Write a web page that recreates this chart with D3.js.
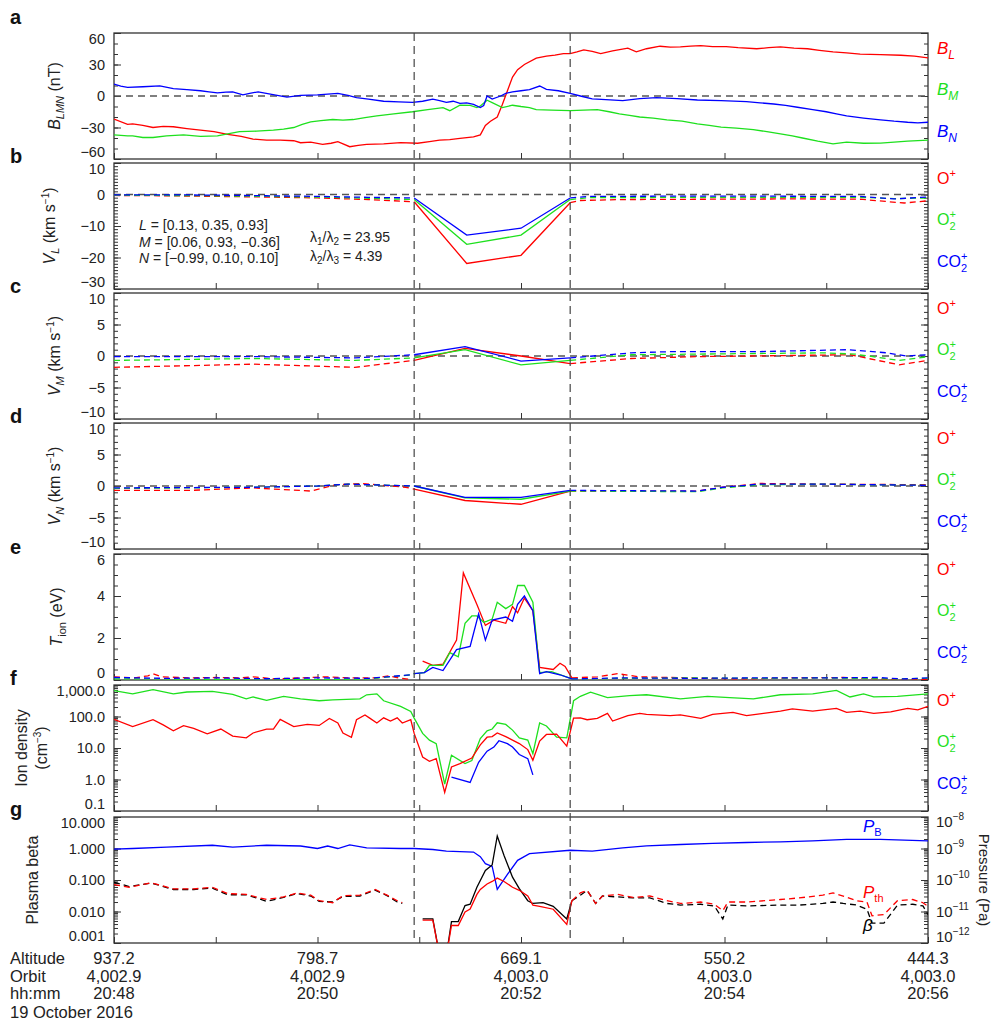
<!DOCTYPE html>
<html>
<head>
<meta charset="utf-8">
<script src="https://cdn.jsdelivr.net/npm/d3@7"></script>
<style>
  body { margin: 0; background: #fff; }
  text { font-family: "Liberation Sans", Arial, Helvetica, sans-serif; }
</style>
</head>
<body>
<div id="chart"></div>
<script>
// times are seconds after 20:48:00 UT, 19 October 2016
const boundaryTimes = [177, 269];
const solidRange = [177, 270];

const timeTicks = [0, 120, 240, 360, 480];
const altitudeLabels = ["937.2", "798.7", "669.1", "550.2", "444.3"];
const orbitLabels = ["4,002.9", "4,002.9", "4,003.0", "4,003.0", "4,003.0"];
const clockLabels = ["20:48", "20:50", "20:52", "20:54", "20:56"];

// a: magnetic field in LMN (nT)
const bL = [[0,-22],[8,-27],[11,-26.5],[17,-28],[23,-30],[29,-29],[35,-29.3],[43,-31],[51,-32.5],[59,-34],[67,-36.6],[75,-38.5],[82,-41],[90,-42],[98,-42],[106,-42.6],[110,-44.5],[116,-44],[123,-46],[128,-45],[132,-43.5],[139,-48.3],[144,-47],[149,-46],[159,-45.5],[169,-44.5],[179,-45],[186,-43.5],[192,-42],[198,-41.5],[204,-40.4],[212,-39],[216,-37],[219,-28],[222,-24],[226,-20],[229,-8],[232,5],[235,18],[238,25],[242,30],[249,36],[255,38],[260,39],[265,40.4],[269,40.4],[273,42],[277,44],[282,42.5],[287,40.4],[294,43],[303,45.5],[308,42],[314,45],[322,47.4],[328,46.5],[334,46.7],[340,47.5],[346,48],[353,47],[361,47],[368,46],[379,45],[386,46],[393,46.7],[401,45.5],[409,45],[416,43.5],[424,42],[432,41],[440,39.8],[452,39.5],[464,38.8],[472,38],[480,36.3]];
const bM = [[0,-37],[8,-38],[11,-38],[17,-39.5],[23,-39.5],[31,-38],[41,-37],[51,-38.5],[61,-38],[67,-36],[74,-34],[84,-33.5],[94,-32.5],[100,-31.5],[106,-30],[111,-27],[116,-24.6],[122,-23.5],[129,-22.4],[135,-23],[141,-22.4],[148,-20.5],[155,-19],[165,-17],[176,-15],[185,-13],[194,-11],[198,-14],[204,-8.8],[210,-9],[214,-11],[216,-9.5],[220,-4],[223,-6.3],[229,-11],[235,-8.8],[240,-10],[245,-11],[249,-13],[258,-13.5],[269,-13.9],[277,-13.5],[285,-13],[292,-15],[298,-17],[304,-18.5],[310,-20],[318,-21],[326,-22.7],[335,-24],[344,-26.5],[351,-28],[358,-29.7],[367,-30.5],[377,-32],[385,-34],[393,-36],[400,-38],[406,-40],[415,-43],[424,-45.5],[432,-44],[442,-45],[452,-44.8],[460,-44],[468,-43],[480,-42]];
const bN = [[0,11.4],[4,9.5],[8,8.2],[17,8.8],[27,9.6],[35,7],[43,6],[51,5],[56,4],[61,3],[66,3.6],[70,4],[76,1],[80,2.5],[85,4],[93,1.5],[102,-1],[110,0.5],[120,1],[126,1.8],[132,2.5],[138,0.5],[143,-1.5],[150,-3],[159,-5],[168,-5.5],[176,-6],[182,-5],[188,-3],[192,-4.5],[196,-6],[200,-5],[204,-7],[208,-6.5],[212,-8],[216,-11],[218,-9],[220,0],[223,-3],[228,0],[231,2.5],[235,4],[240,5],[245,6],[251,9.5],[255,6.4],[262,5],[269,2.5],[275,0],[282,-2.8],[290,-3.5],[300,-4.4],[310,-2.5],[320,-1.5],[332,-2.5],[344,-3.8],[358,-4.5],[373,-5.4],[381,-6.5],[389,-7.6],[396,-9],[403,-10.7],[412,-13],[420,-15],[426,-17],[432,-19],[442,-21],[452,-22.7],[460,-24],[468,-25],[474,-25.5],[480,-25]];

// b: V_L (km/s), dashed outside / solid inside the crossing interval
const vLO = [[0,-0.3],[30,-0.4],[60,-0.6],[90,-0.8],[120,-1.1],[150,-1.6],[177,-2.3],[208,-21.9],[240,-19.3],[269,-2.6],[275,-1.9],[300,-1.6],[350,-1.5],[400,-1.4],[440,-1.5],[455,-2.2],[466,-2.7],[480,-2.0]];
const vLO2 = [[0,-0.2],[30,-0.3],[60,-0.4],[90,-0.6],[120,-0.8],[150,-1.2],[177,-1.6],[208,-15.8],[240,-12.9],[269,-1.6],[280,-1.0],[350,-0.9],[440,-0.9],[460,-1.3],[480,-1.1]];
const vLCO2 = [[0,-0.1],[30,-0.1],[60,-0.2],[90,-0.4],[120,-0.6],[150,-0.9],[177,-1.1],[208,-12.9],[240,-10.7],[269,-1.1],[280,-0.6],[350,-0.5],[440,-0.6],[460,-1.4],[480,-0.8]];

// c: V_M (km/s)
const vMO = [[0,-1.8],[82,-1.3],[142,-1.8],[177,-0.7],[207,1.2],[240,0],[269,-1.2],[305,-0.4],[344,-0.1],[434,0.2],[463,-1.4],[480,-0.7]];
const vMO2 = [[0,-0.7],[82,-0.4],[142,-0.7],[177,-0.3],[207,1.0],[240,-1.4],[269,-0.7],[305,0.2],[344,0.3],[418,0.5],[437,0.3],[463,-0.7],[480,-0.1]];
const vMCO2 = [[0,-0.1],[82,-0.1],[142,-0.3],[177,0.2],[207,1.5],[240,-0.8],[269,-0.3],[305,0.5],[329,0.7],[381,0.7],[433,1.0],[456,0.5],[467,0],[480,0.2]];

// d: V_N (km/s)
const vNO = [[0,-0.7],[45,-0.7],[82,-0.3],[116,-0.8],[131,0.2],[146,0.4],[172,-0.2],[177,-0.5],[207,-2.3],[240,-2.9],[269,-0.8],[344,-0.8],[359,-0.2],[381,0.4],[418,0.3],[480,0.2]];
const vNO2 = [[0,-0.4],[82,-0.2],[120,0],[138,0.3],[177,0],[207,-1.9],[240,-2.1],[269,-0.8],[344,-0.9],[359,-0.3],[381,0.2],[418,0.3],[480,0.1]];
const vNCO2 = [[0,-0.3],[82,-0.2],[120,0],[138,0.3],[177,0],[207,-1.8],[240,-1.8],[269,-0.7],[344,-0.8],[359,-0.2],[381,0.3],[418,0.3],[480,0.1]];

// e: ion temperature (eV)
const tO = [[0,0.15],[12,0.1],[20,0.2],[23,0.3],[28,0.15],[45,0.1],[60,0.12],[75,0.1],[82,0.15],[95,0.05],[110,0.1],[125,0.15],[140,0.1],[155,0.1],[162,0.2],[168,0.1],[175,0.02],null,[182,0.9],[188,0.7],[194,0.75],[202,1.9],[206,5.1],[214,3.6],[219,2.6],[224,2.85],[231,2.7],[235,3.5],[238,3.2],[242,3.9],[247,3.3],[251,0.6],[259,0.5],[263,0.8],[266,0.65],[270,0.1],[285,0.15],[297,0.3],[310,0.15],[340,0.1],[370,0.05],[400,0.1],[430,0.12],[450,0.05],[465,0.0],[480,0.02]];
const tO2 = [[0,0.05],[30,0.05],[60,0.03],[90,0.05],[120,0.02],[150,0.05],[176,0.25],[177,0.3],[183,0.35],[186,0.7],[194,0.7],[198,1.3],[203,1.1],[207,2.7],[211,3.05],[214,3.05],[218,2.75],[220,2.8],[223,2.9],[226,3.7],[231,3.4],[235,3.6],[238,4.5],[242,4.5],[247,3.7],[251,0.35],[258,0.4],[270,0.05],[300,0.08],[340,0.1],[380,0.08],[420,0.1],[460,0.05],[480,0.08]];
const tCO2 = [[0,0.12],[30,0.08],[60,0.1],[90,0.06],[120,0.1],[150,0.08],[176,0.25],[177,0.3],[183,0.35],[188,0.6],[194,0.45],[202,1.45],[210,1.6],[215,3.15],[219,1.9],[223,2.85],[231,3.0],[235,2.8],[238,3.6],[242,4.0],[247,3.3],[251,0.3],[255,0.4],[263,0.25],[270,0.05],[300,0.1],[340,0.08],[380,0.1],[420,0.1],[450,0.12],[465,0.05],[480,0.1]];

// f: ion density (cm^-3)
const nO = [[0,81],[11,48],[23,79],[29,54],[35,35],[41,51],[47,42],[55,28],[63,40],[70,24],[78,21],[82,30],[90,40],[94,40],[98,81],[106,48],[114,56],[121,52],[127,87],[132,62],[135,30],[140,22],[143,79],[148,112],[151,87],[155,62],[159,91],[163,72],[167,91],[170,62],[175,79],[177,29],[182,5.2],[186,3.8],[190,4.6],[195,0.39],[199,2.5],[204,3.2],[211,4.8],[216,12.6],[220,22],[223,23],[226,30],[231,23],[235,17.8],[239,13.8],[244,8.9],[247,4.1],[251,16.6],[255,27],[261,27.5],[267,11.5],[271,89],[275,91],[279,79],[285,87],[291,126],[294,72],[303,107],[310,126],[314,117],[328,107],[334,112],[346,87],[353,117],[365,135],[373,107],[383,126],[393,148],[400,174],[412,148],[426,182],[432,135],[440,148],[448,126],[458,141],[468,182],[474,162],[480,209]];
const nO2 = [[0,660],[11,525],[23,710],[35,525],[43,600],[58,630],[70,500],[78,363],[82,417],[90,324],[100,437],[110,363],[121,316],[129,339],[145,363],[149,490],[155,525],[159,316],[169,209],[175,145],[177,89],[182,29],[186,17.8],[190,13.8],[195,0.72],[199,5.9],[207,3.2],[211,4.0],[216,20],[220,35],[223,40],[226,63],[231,56],[235,37],[239,21],[244,17.8],[247,6.6],[251,63],[255,50],[261,22],[267,21],[271,316],[275,437],[281,590],[291,400],[304,457],[314,490],[334,363],[350,437],[363,400],[377,363],[393,490],[412,525],[426,676],[434,417],[442,525],[448,417],[462,437],[480,525]];
const nCO2 = [[199,1.2],[210,0.81],[215,3.5],[220,7.9],[224,10.7],[227,17],[232,13.8],[235,10.7],[239,6.2],[244,4.6],[247,1.4]];

// g: magnetic and thermal pressure (Pa), plasma beta
const pB = [[0,0.95e-9],[11,1.0e-9],[31,1.1e-9],[58,1.27e-9],[70,1.1e-9],[90,1.27e-9],[110,1.2e-9],[120,1.0e-9],[126,1.2e-9],[132,1.0e-9],[139,1.3e-9],[149,1.05e-9],[169,1.0e-9],[177,1.0e-9],[188,0.93e-9],[196,0.83e-9],[212,0.77e-9],[216,0.55e-9],[219,0.33e-9],[223,0.27e-9],[226,0.05e-9],[232,0.15e-9],[238,0.42e-9],[245,0.69e-9],[269,0.88e-9],[282,0.82e-9],[300,1.05e-9],[314,1.21e-9],[334,1.34e-9],[353,1.45e-9],[373,1.55e-9],[393,1.63e-9],[412,1.75e-9],[432,1.94e-9],[452,1.94e-9],[480,1.75e-9]];
const pTh = [[0,7.1e-11],[9,5.9e-11],[22,8.2e-11],[35,5.2e-11],[47,5.2e-11],[58,5.9e-11],[67,3.7e-11],[78,3.5e-11],[90,2.4e-11],[100,2.9e-11],[108,3.9e-11],[116,3.3e-11],[121,2.2e-11],[129,1.9e-11],[135,3.2e-11],[145,3.3e-11],[154,5.0e-11],[161,3.3e-11],[167,2.2e-11],[170,1.9e-11],null,[182,5.3e-12],[188,5.3e-12],[192,4e-13],[196,4e-13],[199,3.6e-12],[203,3.6e-12],[207,9.7e-12],[210,1.2e-11],[214,3.5e-11],[216,5.0e-11],[220,7.5e-11],[223,9.0e-11],[226,1.15e-10],[230,9.0e-11],[235,5.9e-11],[239,4.7e-11],[244,3.1e-11],[247,1.6e-11],[251,1.46e-11],[259,1.18e-11],[267,3.9e-12],[270,2.2e-11],[275,3.9e-11],[279,4.7e-11],[284,1.8e-11],[288,3.1e-11],[297,3.5e-11],[306,2.8e-11],[316,3.1e-11],[326,2.2e-11],[334,1.8e-11],[346,2.0e-11],[354,1.7e-11],[359,1.06e-11],[362,2.0e-11],[373,2.0e-11],[393,2.4e-11],[404,2.7e-11],[418,3.3e-11],[424,3.9e-11],[430,3.1e-11],[438,2.2e-11],[444,2.0e-11],[447,7.3e-12],[454,8.0e-12],[462,2.2e-11],[471,2.4e-11],[477,1.9e-11],[480,1.46e-11]];
const beta = [[0,0.085],[9,0.062],[22,0.08],[35,0.05],[47,0.05],[58,0.055],[67,0.034],[78,0.034],[90,0.021],[100,0.028],[108,0.037],[116,0.031],[121,0.021],[129,0.02],[135,0.03],[145,0.031],[154,0.048],[161,0.032],[167,0.02],[170,0.018],null,[182,0.0058],[188,0.0058],[192,0.0004],[196,0.0004],[199,0.0048],[203,0.0048],[207,0.0154],[210,0.017],[214,0.059],[219,0.2],[223,0.3],[226,2.5],[230,0.6],[235,0.123],[239,0.053],[244,0.022],[247,0.018],[253,0.019],[259,0.0146],[267,0.0058],[270,0.022],[275,0.033],[279,0.047],[284,0.018],[288,0.031],[297,0.029],[306,0.027],[316,0.027],[326,0.018],[334,0.016],[346,0.017],[354,0.015],[359,0.0058],[362,0.016],[373,0.015],[393,0.016],[404,0.016],[418,0.018],[424,0.02],[430,0.018],[438,0.016],[444,0.0118],[447,0.0043],[454,0.0043],[462,0.016],[471,0.017],[477,0.015],[480,0.008]];

const RED = "#ff0000", GREEN = "#1ee01e", BLUE = "#0000ff", AXIS = "#333";
const W = 993, H = 1022;
const left = 114, right = 928;
const panelTops = [33, 163, 293, 423, 554, 685, 817];
const panelH = 126;
const letterY = [24, 163, 293, 423, 554, 685, 816];

const svg = d3.select("#chart").append("svg")
    .attr("width", W).attr("height", H)
    .attr("font-family", '"Liberation Sans", Arial, sans-serif');

const x = d3.scaleLinear().domain([0, 480]).range([left, right]);

const logMinor = (lo, hi) => d3.range(Math.round(Math.log10(lo)), Math.round(Math.log10(hi)))
    .flatMap(e => d3.range(1, 10).map(m => m * Math.pow(10, e)));

function makePanel(i, opts) {
    const top = panelTops[i], bottom = top + panelH;
    const y = (opts.log ? d3.scaleLog() : d3.scaleLinear()).domain(opts.domain).range([bottom, top]);
    const g = svg.append("g");
    const clipId = "clip" + i;
    svg.append("clipPath").attr("id", clipId).append("rect")
        .attr("x", left).attr("y", top).attr("width", right - left).attr("height", panelH);

    // minor ticks, both sides
    const minorL = g.append("g").attr("transform", `translate(${left},0)`)
        .call(d3.axisLeft(y).tickValues(opts.minor).tickSize(-4).tickFormat(""));
    const minorR = g.append("g").attr("transform", `translate(${right},0)`)
        .call(d3.axisRight(y).tickValues(opts.minor).tickSize(-4).tickFormat(""));
    const majorR = g.append("g").attr("transform", `translate(${right},0)`)
        .call(d3.axisRight(y).tickValues(opts.major).tickSize(-7).tickFormat(""));
    // major ticks + labels
    const gl = g.append("g").attr("transform", `translate(${left},0)`)
        .call(d3.axisLeft(y).tickValues(opts.major).tickSize(-7).tickPadding(9).tickFormat(opts.fmt));
    [minorL, minorR, majorR, gl].forEach(a => {
        a.select(".domain").remove();
        a.selectAll("line").attr("stroke", AXIS);
    });
    gl.attr("font-family", null).attr("font-size", null);
    gl.selectAll("text")
        .attr("font-size", 14.5).attr("fill", "#222")
        .attr("y", d => Math.max(top + 6 - y(d), Math.min(bottom - 7 - y(d), 0)));

    // time ticks along the bottom
    const gb = g.append("g").attr("transform", `translate(0,${bottom})`)
        .call(d3.axisBottom(x).tickValues(d3.range(0, 481, 60)).tickSize(-6).tickFormat(""));
    gb.select(".domain").remove();
    gb.selectAll("line").attr("stroke", AXIS);

    if (opts.zero) {
        g.append("line").attr("x1", left).attr("x2", right)
            .attr("y1", y(0)).attr("y2", y(0))
            .attr("stroke", "#555").attr("stroke-width", 1.3).attr("stroke-dasharray", "7,5");
    }

    g.append("rect").attr("x", left).attr("y", top).attr("width", right - left).attr("height", panelH)
        .attr("fill", "none").attr("stroke", AXIS).attr("stroke-width", 1.3);

    svg.append("text").attr("x", 10).attr("y", letterY[i])
        .attr("font-size", 20).attr("font-weight", "bold").attr("fill", "#111").text("abcdefg"[i]);

    return { g, y, top, bottom, clip: `url(#${clipId})` };
}

function drawSeries(p, pts, color, split, ys) {
    const yy = ys || p.y;
    const line = d3.line().x(d => x(d[0])).y(d => yy(d[1]));
    const runs = [];
    let cur = null;
    for (let k = 0; k < pts.length - 1; k++) {
        const a = pts[k], b = pts[k + 1];
        if (!a || !b) { cur = null; continue; }
        const solid = !split || (a[0] >= solidRange[0] && b[0] <= solidRange[1]);
        if (!cur || cur.solid !== solid) { cur = { solid, pts: [a] }; runs.push(cur); }
        cur.pts.push(b);
    }
    runs.forEach(r => {
        p.g.append("path").attr("d", line(r.pts))
            .attr("fill", "none").attr("stroke", color).attr("stroke-width", 1.3)
            .attr("stroke-dasharray", r.solid ? null : "6,4")
            .attr("clip-path", p.clip);
    });
}

// rich text helper: parts = [[text, {italic, size, dx, dy}], ...]
function richText(parent, xPos, yPos, parts, color, size, attrs) {
    const t = parent.append("text").attr("x", xPos).attr("y", yPos)
        .attr("fill", color).attr("font-size", size);
    if (attrs) Object.entries(attrs).forEach(([k, v]) => t.attr(k, v));
    parts.forEach(([s, o]) => {
        o = o || {};
        const ts = t.append("tspan").text(s);
        if (o.italic) ts.attr("font-style", "italic");
        if (o.size) ts.attr("font-size", o.size);
        if (o.dx) ts.attr("dx", o.dx);
        if (o.dy) ts.attr("dy", o.dy);
    });
    return t;
}

function yLabel(p, xPos, parts, size) {
    const cy = (p.top + p.bottom) / 2;
    richText(svg, 0, 0, parts, "#222", size || 16,
        { transform: `translate(${xPos},${cy}) rotate(-90)`, "text-anchor": "middle" });
}

const lx = 937;
function ionLegend(p) {
    richText(svg, lx, p.top + 21, [["O"], ["+", { size: 11, dy: -7 }]], RED, 16);
    richText(svg, lx, p.top + 62, [["O"], ["+", { size: 11, dy: -7 }], ["2", { size: 11, dx: -6.5, dy: 12 }]], GREEN, 16);
    richText(svg, lx, p.top + 104, [["CO"], ["+", { size: 11, dy: -7 }], ["2", { size: 11, dx: -6.5, dy: 12 }]], BLUE, 16);
}

const fmtLin = d3.format("d");

// panel a
const pa = makePanel(0, { domain: [-60, 60], major: [-60, -30, 0, 30, 60], minor: d3.range(-60, 61, 10), fmt: fmtLin, zero: true });
drawSeries(pa, bL, RED, false);
drawSeries(pa, bM, GREEN, false);
drawSeries(pa, bN, BLUE, false);
yLabel(pa, 60, [["B", { italic: true }], ["LMN", { italic: true, size: 11, dy: 4 }], [" (nT)", { dy: -4 }]]);
richText(svg, lx, pa.top + 21, [["B", { italic: true }], ["L", { italic: true, size: 12, dy: 5 }]], RED, 17);
richText(svg, lx, pa.top + 62, [["B", { italic: true }], ["M", { italic: true, size: 12, dy: 5 }]], GREEN, 17);
richText(svg, lx, pa.top + 104, [["B", { italic: true }], ["N", { italic: true, size: 12, dy: 5 }]], BLUE, 17);

// panels b-d
const velPanels = [
    { i: 1, domain: [-30, 10], major: [-30, -20, -10, 0, 10], minor: d3.range(-30, 11, 1), sub: "L", series: [vLO, vLO2, vLCO2], lx: 55 },
    { i: 2, domain: [-10, 10], major: [-10, -5, 0, 5, 10], minor: d3.range(-10, 11, 1), sub: "M", series: [vMO, vMO2, vMCO2], lx: 60 },
    { i: 3, domain: [-10, 10], major: [-10, -5, 0, 5, 10], minor: d3.range(-10, 11, 1), sub: "N", series: [vNO, vNO2, vNCO2], lx: 60 }
];
velPanels.forEach(v => {
    const p = makePanel(v.i, { domain: v.domain, major: v.major, minor: v.minor, fmt: fmtLin, zero: true });
    [RED, GREEN, BLUE].forEach((c, k) => drawSeries(p, v.series[k], c, true));
    yLabel(p, v.lx, [["V", { italic: true }], [v.sub, { italic: true, size: 11, dy: 4 }], [" (km s", { dy: -4 }], ["−1", { size: 10, dy: -6 }], [")", { dy: 6 }]]);
    ionLegend(p);
    if (v.i === 1) {
        const lines = [["L", "[0.13, 0.35, 0.93]"], ["M", "[0.06, 0.93, −0.36]"], ["N", "[−0.99, 0.10, 0.10]"]];
        lines.forEach(([n, val], k) => richText(svg, 139, 230 + k * 16.5, [[n, { italic: true }], [" = " + val]], "#222", 14));
        richText(svg, 310, 242, [["λ"], ["1", { size: 10, dy: 3 }], ["/λ", { dy: -3 }], ["2", { size: 10, dy: 3 }], [" = 23.95", { dy: -3 }]], "#222", 14);
        richText(svg, 310, 261, [["λ"], ["2", { size: 10, dy: 3 }], ["/λ", { dy: -3 }], ["3", { size: 10, dy: 3 }], [" = 4.39", { dy: -3 }]], "#222", 14);
    }
});

// panel e
const pe = makePanel(4, { domain: [0, 6], major: [0, 2, 4, 6], minor: d3.range(0, 6.01, 0.5), fmt: fmtLin });
drawSeries(pe, tO, RED, true);
drawSeries(pe, tO2, GREEN, true);
drawSeries(pe, tCO2, BLUE, true);
yLabel(pe, 62, [["T", { italic: true }], ["ion", { size: 11, dy: 4 }], [" (eV)", { dy: -4 }]]);
ionLegend(pe);

// panel f
const pf = makePanel(5, { log: true, domain: [0.1, 1000], major: [0.1, 1, 10, 100, 1000], minor: logMinor(0.1, 1000), fmt: d3.format(",.1f") });
drawSeries(pf, nO2, GREEN, false);
drawSeries(pf, nO, RED, false);
drawSeries(pf, nCO2, BLUE, false);
yLabel(pf, 27, [["Ion density"]], 16);
yLabel(pf, 47, [["(cm"], ["−3", { size: 10, dy: -6 }], [")", { dy: 6 }]], 16);
ionLegend(pf);

// panel g
const pg = makePanel(6, { log: true, domain: [0.001, 10], major: [0.001, 0.01, 0.1, 1, 10], minor: logMinor(0.001, 10), fmt: d3.format(".3f") });
const yP = d3.scaleLog().domain([1e-12, 1e-8]).range([pg.bottom, pg.top]);
drawSeries(pg, pB, BLUE, false, yP);
drawSeries(pg, beta, "#000", true);
drawSeries(pg, pTh, RED, true, yP);
yLabel(pg, 38, [["Plasma beta"]], 16);
const pTicks = [1e-12, 1e-11, 1e-10, 1e-9, 1e-8];
pTicks.forEach(v => {
    const e = Math.round(Math.log10(v));
    const yy = Math.max(pg.top + 5, Math.min(pg.bottom - 6, yP(v)));
    richText(svg, 936, yy + 5, [["10"], ["−" + Math.abs(e), { size: 10, dy: -7 }]], "#222", 15);
});
svg.append("text").attr("font-size", 15).attr("fill", "#222").attr("text-anchor", "middle")
    .attr("transform", `translate(979,${(pg.top + pg.bottom) / 2}) rotate(90)`).text("Pressure (Pa)");
richText(svg, 863, 832, [["P", { italic: true }], ["B", { size: 11, dy: 4 }]], BLUE, 17);
richText(svg, 863, 898, [["P", { italic: true }], ["th", { size: 11, dy: 4 }]], RED, 17);
richText(svg, 863, 931, [["β", { italic: true }]], "#000", 17);

// crossing boundaries
boundaryTimes.forEach(t => {
    svg.append("line").attr("x1", x(t)).attr("x2", x(t))
        .attr("y1", panelTops[0]).attr("y2", pg.bottom)
        .attr("stroke", "#444").attr("stroke-width", 1.2).attr("stroke-dasharray", "8,5");
});

// orbit annotation rows
const rows = [["Altitude", altitudeLabels, 964], ["Orbit", orbitLabels, 982], ["hh:mm", clockLabels, 999]];
rows.forEach(([name, labels, yy]) => {
    svg.append("text").attr("x", 10).attr("y", yy).attr("font-size", 16.5).attr("fill", "#222").text(name);
    svg.selectAll(null).data(timeTicks).enter().append("text")
        .attr("x", d => x(d)).attr("y", yy).attr("text-anchor", "middle")
        .attr("font-size", 16.5).attr("fill", "#222")
        .text((d, k) => labels[k]);
});
svg.append("text").attr("x", 10).attr("y", 1018).attr("font-size", 16.5).attr("fill", "#222").text("19 October 2016");
</script>
</body>
</html>
